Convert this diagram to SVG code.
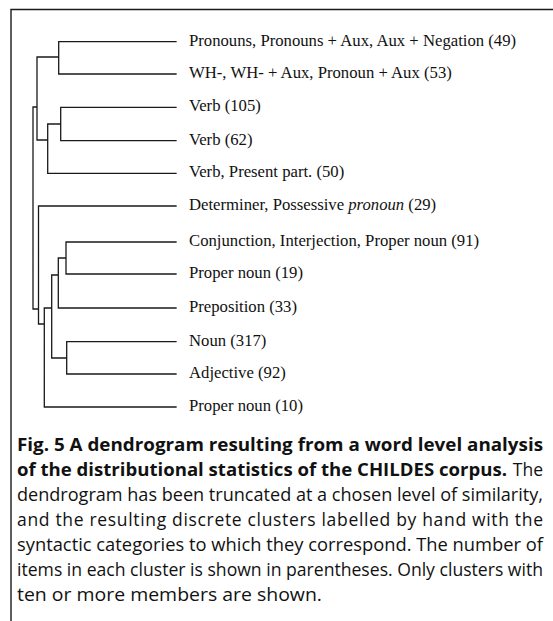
<svg xmlns="http://www.w3.org/2000/svg" width="553" height="621" viewBox="0 0 553 621">
<style>
.frame{stroke:#1a1a1a;stroke-width:1.4;fill:none}
.tree{stroke:#1a1a1a;stroke-width:1.3;fill:none;stroke-linecap:square}
.lbl{font-family:"Liberation Serif","Times New Roman",serif;font-size:16.7px;fill:#111}
.cap{font-family:"Open Sans","DejaVu Sans",sans-serif;font-size:17.5px;fill:#111}
.b{font-weight:bold}
</style>
<rect width="553" height="621" fill="#fff"/>
<g id="frame">
<path class="frame" d="M11,621 V9.5 H553"/>
</g>
<g id="connectors">
<path class="tree" d="
M58.7,41.7 H176 M58.7,74 H176 M58.7,41.7 V74 M37,57 H58.7
M60.7,107.3 H176 M60.7,140.7 H176 M60.7,107.3 V140.7 M47.7,124 H60.7
M47.7,173.3 H176 M47.7,124 V173.3 M37,140 H47.7
M37,57 V140 M33,107 H37 M33,107 V309 M33,309 H38.5
M38.5,206 H176 M38.5,206 V324 M38.5,324 H44.3
M44.3,308 V407 M44.3,407 H176 M44.3,308 H51.7
M51.7,275 V358 M51.7,275 H58.3 M58.3,258 V308 M58.3,308 H176
M58.3,258 H66 M66,242 V274 M66,242 H176 M66,274 H176
M51.7,358 H66.7 M66.7,341.7 V374 M66.7,341.7 H176 M66.7,374 H176"/>
</g>
<g id="n1"><text class="lbl" x="189" y="46">Pronouns, Pronouns + Aux, Aux + Negation (49)</text></g>
<g id="n2"><text class="lbl" x="189" y="78">WH-, WH- + Aux, Pronoun + Aux (53)</text></g>
<g id="n3"><text class="lbl" x="189" y="111">Verb (105)</text></g>
<g id="n4"><text class="lbl" x="189" y="145">Verb (62)</text></g>
<g id="n5"><text class="lbl" x="189" y="177">Verb, Present part. (50)</text></g>
<g id="n6"><text class="lbl" x="189" y="210">Determiner, Possessive <tspan font-style="italic">pronoun</tspan> (29)</text></g>
<g id="n7"><text class="lbl" x="189" y="246">Conjunction, Interjection, Proper noun (91)</text></g>
<g id="n8"><text class="lbl" x="189" y="278">Proper noun (19)</text></g>
<g id="n9"><text class="lbl" x="189" y="312">Preposition (33)</text></g>
<g id="n10"><text class="lbl" x="189" y="346">Noun (317)</text></g>
<g id="n11"><text class="lbl" x="189" y="378">Adjective (92)</text></g>
<g id="n12"><text class="lbl" x="189" y="411">Proper noun (10)</text></g>
<g id="caption">
<text class="cap b" x="17" y="451" textLength="526" lengthAdjust="spacingAndGlyphs">Fig. 5 A dendrogram resulting from a word level analysis</text>
<text class="cap b" x="17" y="476" textLength="490" lengthAdjust="spacingAndGlyphs">of the distributional statistics of the CHILDES corpus.</text>
<text class="cap" x="543" y="476" text-anchor="end">The</text>
<text class="cap" x="17" y="501" textLength="526" lengthAdjust="spacingAndGlyphs">dendrogram has been truncated at a chosen level of similarity,</text>
<text class="cap" x="17" y="526" textLength="526" lengthAdjust="spacing">and the resulting discrete clusters labelled by hand with the</text>
<text class="cap" x="17" y="551" textLength="526" lengthAdjust="spacingAndGlyphs">syntactic categories to which they correspond. The number of</text>
<text class="cap" x="17" y="576" textLength="526" lengthAdjust="spacingAndGlyphs">items in each cluster is shown in parentheses. Only clusters with</text>
<text class="cap" x="17" y="601" textLength="305" lengthAdjust="spacingAndGlyphs">ten or more members are shown.</text>
</g>
</svg>
